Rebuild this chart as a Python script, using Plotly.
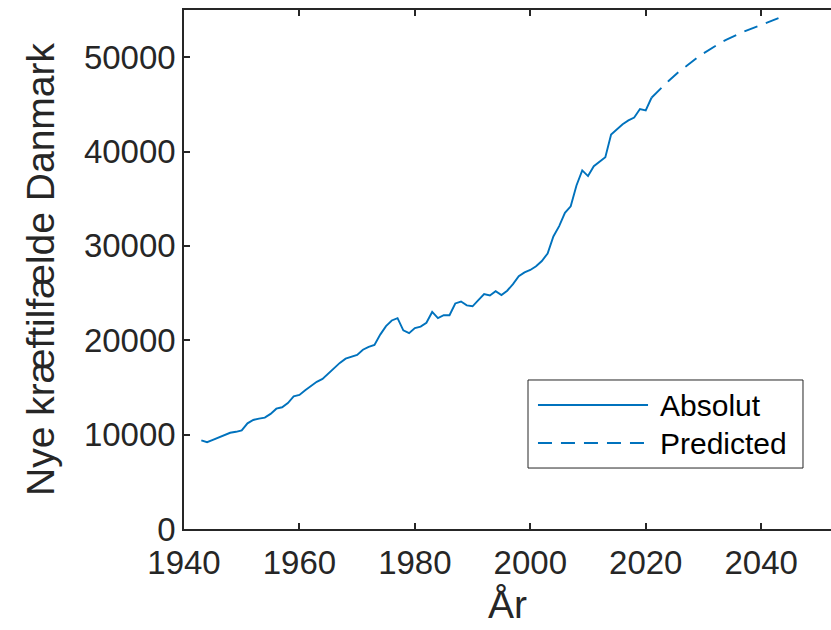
import plotly.graph_objects as go

years_abs = list(range(1943, 2022))
cases_abs = [
    9400, 9200, 9450, 9700, 9900, 10200, 10300, 10450, 11200, 11550,
    11700, 11800, 12200, 12750, 12900, 13350, 14050, 14200, 14700, 15200,
    15600, 15900, 16500, 17100, 17600, 18050, 18250, 18450, 19000, 19300,
    19500, 20600, 21500, 22100, 22350, 21050, 20750, 21300, 21450, 21850,
    23000, 22350, 22650, 22650, 23900, 24100, 23700, 23600, 24250, 24900,
    24750, 25200, 24800, 25250, 25950, 26800, 27200, 27450, 27850, 28400,
    29200, 31000, 32100, 33500, 34200, 36400, 38000, 37400, 38450, 38900,
    39400, 41800, 42400, 42900, 43300, 43600, 44500, 44350, 45700,
]

years_pred = list(range(2021, 2044))
cases_pred = [
    45700, 46350, 46920, 47500, 48100, 48600, 49050, 49550, 50000, 50400,
    50800, 51200, 51550, 51850, 52150, 52430, 52700, 52950, 53170, 53400,
    53650, 53900, 54150,
]

x_ticks = [1940, 1960, 1980, 2000, 2020, 2040]
y_ticks = [0, 10000, 20000, 30000, 40000, 50000]
legend_labels = ["Absolut", "Predicted"]

BLUE = "#0072BD"
AX = "#262626"
FONT = "Liberation Sans, Arial, sans-serif"
DASH = "14px,9px"

fig = go.Figure()
fig.add_trace(go.Scatter(x=years_abs, y=cases_abs, mode="lines",
                         line=dict(color=BLUE, width=1.9), name=legend_labels[0],
                         showlegend=False))
fig.add_trace(go.Scatter(x=years_pred, y=cases_pred, mode="lines",
                         line=dict(color=BLUE, width=1.9, dash=DASH), name=legend_labels[1],
                         showlegend=False))

# legend drawn by hand (MATLAB style, long line samples)
L_X0, L_X1, L_Y0, L_Y1 = 0.5317, 0.9567, 0.1175, 0.2871
fig.add_shape(type="rect", xref="paper", yref="paper", x0=L_X0, x1=L_X1, y0=L_Y0, y1=L_Y1,
              line=dict(color=AX, width=1), fillcolor="white", layer="above")
for i, (lab, yy) in enumerate(zip(legend_labels, [0.2389, 0.1657])):
    fig.add_shape(type="line", xref="paper", yref="paper", x0=0.5471, x1=0.7172, y0=yy, y1=yy,
                  line=dict(color=BLUE, width=1.9, dash=("solid" if i == 0 else DASH)), layer="above")
    fig.add_annotation(xref="paper", yref="paper", x=0.7326, y=yy, text=lab, showarrow=False,
                       xanchor="left", yanchor="middle", font=dict(family=FONT, size=30, color="#000000"))

fig.update_layout(
    width=831, height=630,
    margin=dict(l=184, r=0, t=10, b=101, pad=0),
    paper_bgcolor="white", plot_bgcolor="white",
    font=dict(family=FONT, color=AX),
    showlegend=False,
)
fig.update_xaxes(range=[1940, 2052.1], tickvals=x_ticks, ticktext=[str(v) for v in x_ticks],
                 showgrid=False, zeroline=False, showline=True, linecolor=AX, linewidth=1.5,
                 mirror="ticks", ticks="inside", ticklen=6, tickwidth=1.5, tickcolor=AX,
                 ticklabelstandoff=4,
                 tickfont=dict(family=FONT, size=33, color=AX),
                 title=dict(text="År", font=dict(family=FONT, size=39, color=AX), standoff=10))
fig.update_yaxes(range=[0, 55000], tickvals=y_ticks, ticktext=[str(v) for v in y_ticks],
                 showgrid=False, zeroline=False, showline=True, linecolor=AX, linewidth=1.5,
                 mirror=False, ticks="inside", ticklen=6, tickwidth=1.5, tickcolor=AX,
                 tickfont=dict(family=FONT, size=33, color=AX),
                 title=dict(text="Nye kræftilfælde Danmark", font=dict(family=FONT, size=39, color=AX),
                            standoff=17))

fig.write_html("out.html")
